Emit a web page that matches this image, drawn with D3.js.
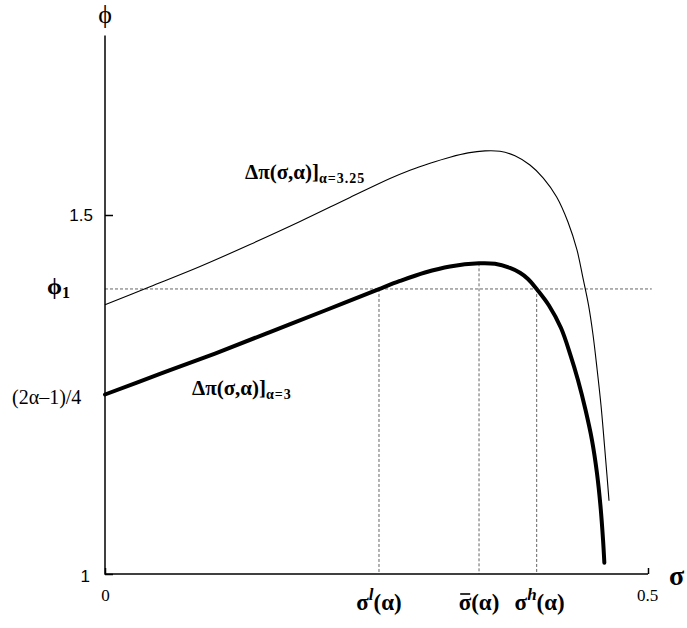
<!DOCTYPE html>
<html><head><meta charset="utf-8">
<script src="https://cdn.jsdelivr.net/npm/d3@7"></script>
<style>body{margin:0;background:#fff}svg{display:block}</style>
</head><body>
<svg id="c" width="687" height="628"></svg>
<script>
// Data
const sigmaThick = [0, 0.0506, 0.1013, 0.1519, 0.2026, 0.2523, 0.2716, 0.2947, 0.3177, 0.3444, 0.3591, 0.3729, 0.3821, 0.3895, 0.3975, 0.4088, 0.4199, 0.4286, 0.4355, 0.4425, 0.4484, 0.4530, 0.4563, 0.4586, 0.4598];
const phiThick   = [1.25, 1.2786, 1.3071, 1.3370, 1.3670, 1.3969, 1.4081, 1.4199, 1.4283, 1.4327, 1.4320, 1.4262, 1.4195, 1.4109, 1.3969, 1.3740, 1.3426, 1.3050, 1.2702, 1.2284, 1.1866, 1.1407, 1.0937, 1.0474, 1.0157];
const sigmaThin  = [0, 0.0414, 0.0875, 0.1335, 0.1796, 0.2256, 0.2624, 0.2808, 0.2993, 0.3177, 0.3343, 0.3499, 0.3637, 0.3775, 0.3913, 0.4036, 0.4159, 0.4263, 0.4346, 0.4401, 0.4452, 0.4494, 0.4530, 0.4567, 0.4599, 0.4622, 0.4641];
const phiThin    = [1.375, 1.4001, 1.4283, 1.4589, 1.4909, 1.5244, 1.5508, 1.5624, 1.5721, 1.5805, 1.5865, 1.5893, 1.5887, 1.5825, 1.5696, 1.5515, 1.5251, 1.4903, 1.4513, 1.4123, 1.3747, 1.3329, 1.2869, 1.2354, 1.1797, 1.1379, 1.1021];
const phi1 = 1.397;
const phiPeak = 1.4327;
const sigmaMarks = [0.2523, 0.3444, 0.3975];
const sigmaMarkTops = [phi1, phiPeak, phi1];
const xTicks = [0, 0.5];
const xTickLabels = ["0", "0.5"];
const yTicks = [1, 1.5];
const yTickLabels = ["1", "1.5"];
const phiStart = 1.25;

const svg = d3.select("#c");
const x = d3.scaleLinear().domain([0, 0.5]).range([105, 648]);
const y = d3.scaleLinear().domain([1, 1.75]).range([574, 35.5]);
const serif = "'Liberation Serif', 'DejaVu Serif', serif";
const sans = "'Liberation Sans', Arial, sans-serif";

// dashed guides
const g = svg.append("g");
g.append("line").attr("x1", x(0)).attr("x2", x(0.5035)).attr("y1", y(phi1)).attr("y2", y(phi1))
  .attr("stroke", "#666").attr("stroke-width", 1).attr("stroke-dasharray", "3,2");
sigmaMarks.forEach((s, i) => {
  g.append("line").attr("x1", x(s)).attr("x2", x(s)).attr("y1", y(sigmaMarkTops[i])).attr("y2", y(1))
    .attr("stroke", "#666").attr("stroke-width", 1).attr("stroke-dasharray", "3,2");
});

// axes
const xAxis = d3.axisBottom(x).tickValues(xTicks).tickSize(-6).tickPadding(15)
  .tickFormat((d, i) => xTickLabels[i]);
const xg = svg.append("g").attr("transform", `translate(0,${y(1)})`).call(xAxis);
xg.select(".domain").remove();
xg.selectAll(".tick line").attr("stroke", "#000").attr("stroke-width", 1.5);
xg.selectAll(".tick text").attr("font-family", serif).attr("font-size", 17).attr("fill", "#000");
xg.selectAll(".tick").filter(d => d === 0.5).select("text").attr("dx", -1);

const yAxis = d3.axisLeft(y).tickValues(yTicks).tickSize(-8).tickPadding(12)
  .tickFormat((d, i) => yTickLabels[i]);
const yg = svg.append("g").attr("transform", `translate(${x(0)},0)`).call(yAxis);
yg.select(".domain").remove();
yg.selectAll(".tick line").attr("stroke", "#000").attr("stroke-width", 1.5);
yg.selectAll(".tick text").attr("font-family", sans).attr("font-size", 17).attr("fill", "#000");
yg.selectAll(".tick").filter(d => d === 1).select("text").attr("x", -15).attr("dy", "0.45em");

svg.append("line").attr("x1", x(0)).attr("x2", x(0.5)).attr("y1", y(1)).attr("y2", y(1))
  .attr("stroke", "#000").attr("stroke-width", 1.5);
svg.append("line").attr("x1", x(0)).attr("x2", x(0)).attr("y1", y(1.75)).attr("y2", y(1) + 0.75)
  .attr("stroke", "#000").attr("stroke-width", 1.5);

// curves
const line = d3.line().x(d => x(d[0])).y(d => y(d[1])).curve(d3.curveCatmullRom.alpha(0.5));
svg.append("path").datum(sigmaThin.map((s, i) => [s, phiThin[i]])).attr("d", line)
  .attr("fill", "none").attr("stroke", "#000").attr("stroke-width", 1.1);
svg.append("path").datum(sigmaThick.map((s, i) => [s, phiThick[i]])).attr("d", line)
  .attr("fill", "none").attr("stroke", "#000").attr("stroke-width", 4).attr("stroke-linecap", "round");

// axis titles
svg.append("text").attr("x", x(0)).attr("y", 23).attr("text-anchor", "middle")
  .attr("font-family", serif).attr("font-size", 26).text("ϕ");
svg.append("text").attr("x", 669).attr("y", 585)
  .attr("font-family", serif).attr("font-size", 28).attr("font-weight", "bold").text("σ");

// y-side labels
const p1 = svg.append("text").attr("x", 47).attr("y", y(phi1) + 5)
  .attr("font-family", serif).attr("font-size", 24).attr("font-weight", "bold");
p1.append("tspan").text("ϕ");
p1.append("tspan").attr("font-size", 16).attr("dy", 4).text("1");
svg.append("text").attr("x", 12).attr("y", y(phiStart) + 9)
  .attr("font-family", serif).attr("font-size", 20).text("(2α–1)/4");

// sigma labels under axis
const sl = [
  {sup: "l", bar: false},
  {sup: "", bar: true},
  {sup: "h", bar: false}
];
sigmaMarks.forEach((s, i) => {
  const t = svg.append("text").attr("x", x(s) + (i === 2 ? 3 : 0)).attr("y", 610).attr("text-anchor", "middle")
    .attr("font-family", serif).attr("font-size", 23).attr("font-weight", "bold");
  t.append("tspan").text("σ");
  if (sl[i].sup) t.append("tspan").attr("font-size", 17).attr("font-style", "italic").attr("dy", -10).text(sl[i].sup);
  t.append("tspan").attr("dy", sl[i].sup ? 10 : 0).text("(α)");
  if (sl[i].bar) {
    const ext = t.node().getExtentOfChar(0);
    svg.append("line").attr("x1", ext.x + 1.5).attr("x2", ext.x + ext.width - 1)
      .attr("y1", 594).attr("y2", 594).attr("stroke", "#000").attr("stroke-width", 1.6);
  }
});

// curve labels
function curveLabel(xp, yp, sub) {
  const t = svg.append("text").attr("x", xp).attr("y", yp)
    .attr("font-family", serif).attr("font-size", 21).attr("font-weight", "bold");
  t.append("tspan").text("Δπ(σ,α)]");
  t.append("tspan").attr("font-size", 14).attr("letter-spacing", 1).attr("dy", 4).text(sub);
}
curveLabel(245, 179, "α=3.25");
curveLabel(192, 395, "α=3");
</script>
</body></html>
